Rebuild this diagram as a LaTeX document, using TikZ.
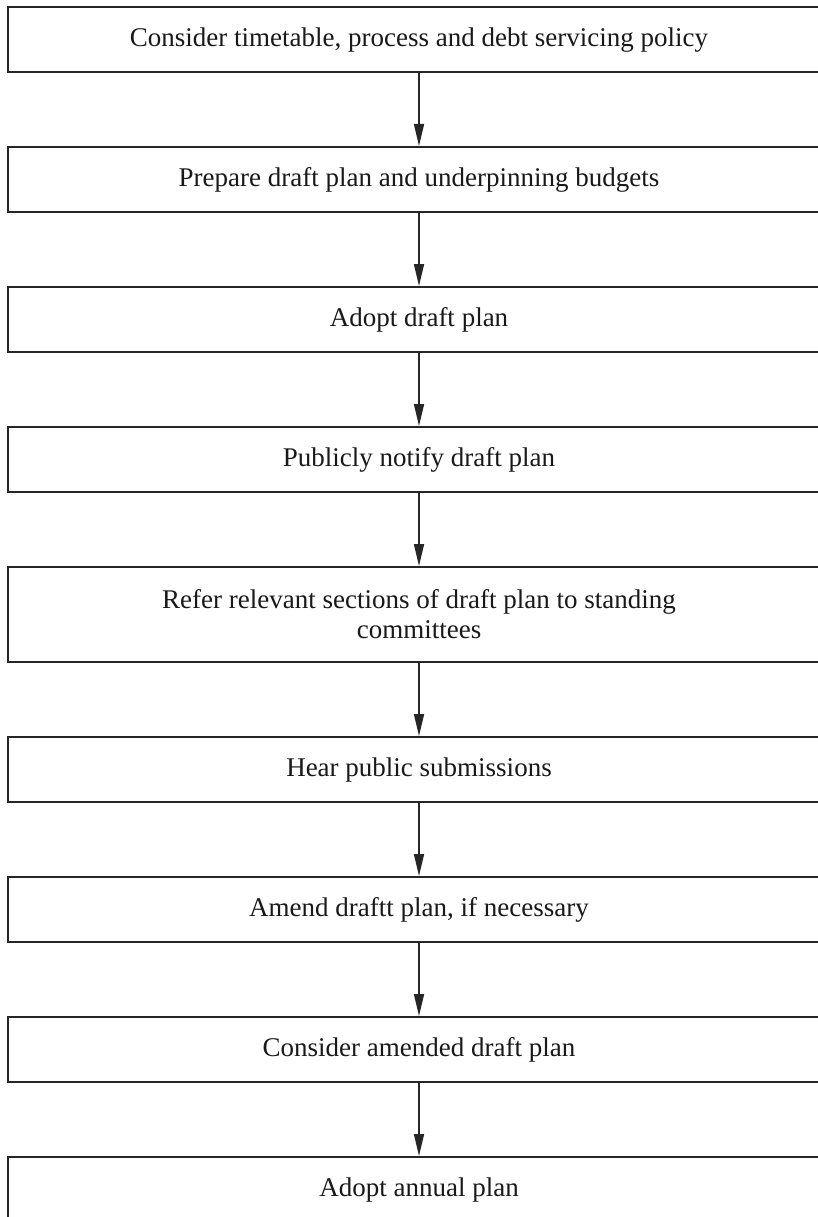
\documentclass[tikz,border=0pt]{standalone}
\usepackage{fontspec}
\setmainfont{Liberation Serif}
\usetikzlibrary{arrows.meta}
\begin{document}
\begin{tikzpicture}[x=1pt,y=1pt,
  stage/.style={draw=black!85, line width=2.2pt, minimum width=822pt,
    minimum height=65pt, inner sep=0pt, anchor=north, align=center,
    font=\fontsize{27}{30}\selectfont, text=black!90},
  flow/.style={draw=black!85, line width=1.6pt,
    -{Triangle[length=22pt,width=10pt]}}]
\useasboundingbox (0,0) rectangle (818,-1217);
\fill[white] (0,0) rectangle (818,-1217);
\node[stage] (s1) at (419,-6)    {Consider timetable, process and debt servicing policy};
\node[stage] (s2) at (419,-146)  {Prepare draft plan and underpinning budgets};
\node[stage] (s3) at (419,-286)  {Adopt draft plan};
\node[stage] (s4) at (419,-426)  {Publicly notify draft plan};
\node[stage, minimum height=95pt] (s5) at (419,-566)
  {Refer relevant sections of draft plan to standing\\committees};
\node[stage] (s6) at (419,-736)  {Hear public submissions};
\node[stage] (s7) at (419,-876)  {Amend draftt plan, if necessary};
\node[stage] (s8) at (419,-1016) {Consider amended draft plan};
\node[stage] (s9) at (419,-1156) {Adopt annual plan};
\foreach \a/\b in {s1/s2,s2/s3,s3/s4,s4/s5,s5/s6,s6/s7,s7/s8,s8/s9}
  \draw[flow] (\a.south) -- (\b.north);
\end{tikzpicture}
\end{document}
